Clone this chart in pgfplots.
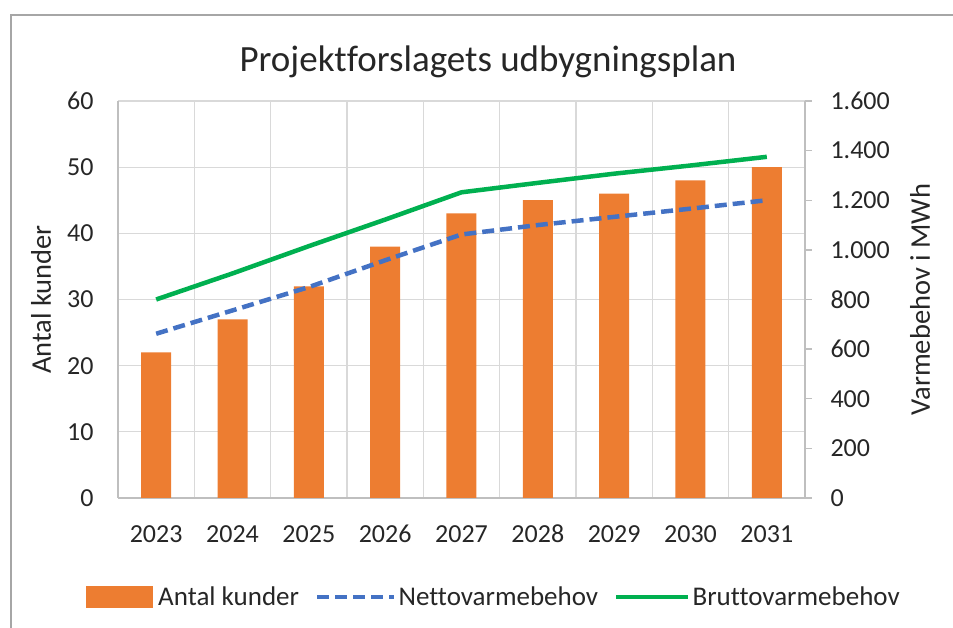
\documentclass[border=0pt]{standalone}
\usepackage{fontspec}
\setmainfont{Carlito}[Ligatures=NoCommon]
\usepackage{pgfplots}
\pgfplotsset{compat=1.18}
\definecolor{barorange}{HTML}{ED7D31}
\definecolor{lineblue}{HTML}{4472C4}
\definecolor{linegreen}{HTML}{00B050}
\definecolor{gridgray}{HTML}{D9D9D9}
\definecolor{axgray}{HTML}{BFBFBF}
\definecolor{framegray}{HTML}{A6A6A6}
\definecolor{txt}{HTML}{262626}
\pgfplotsset{
  longline/.style={legend image code/.code={\draw[##1] (0pt,0pt) -- (#1,0pt);}},
  barpatch/.style={legend image code/.code={\fill[barorange] (0pt,-10pt) rectangle (66pt,11pt); \path (70pt,0pt);}},
}
\begin{document}
\begin{tikzpicture}
\path[use as bounding box] (0pt,0pt) rectangle (953pt,628pt);
\draw[line width=2pt, framegray] (11pt,0pt) -- (11pt,613pt) -- (953pt,613pt);
\node[text=txt, font=\fontsize{37}{44}\selectfont] at (488pt,566pt) {Projektforslagets udbygningsplan};

\begin{axis}[
  at={(118pt,130pt)}, anchor=south west,
  scale only axis, width=687pt, height=397pt,
  xmin=-0.5, xmax=8.5, ymin=0, ymax=60,
  axis y line*=left, axis x line*=bottom,
  xtick={0,1,2,3,4,5,6,7,8},
  xticklabels={2023,2024,2025,2026,2027,2028,2029,2030,2031},
  minor xtick={-0.5,0.5,1.5,2.5,3.5,4.5,5.5,6.5,7.5,8.5},
  xminorgrids, ymajorgrids,
  ytick={0,10,20,30,40,50,60},
  major tick length=0pt, minor tick length=0pt,
  grid style={gridgray, line width=1.3pt},
  minor grid style={gridgray, line width=1.3pt},
  axis line style={draw=axgray, line width=1.3pt},
  tick label style={text=txt, font=\fontsize{26}{30}\selectfont},
  /pgf/number format/assume math mode=true,
  xticklabel style={anchor=base, yshift=-45pt},
  yticklabel style={xshift=-21pt},
  ylabel={Antal kunder},
  ylabel style={at={(axis description cs:-0.112,0.5)}, anchor=center, text=txt, font=\fontsize{28.5}{33}\selectfont},
]
\addplot[ybar, bar width=30pt, fill=barorange, draw=none] coordinates {
  (0,22) (1,27) (2,32) (3,38) (4,43) (5,45) (6,46) (7,48) (8,50)
};
\end{axis}

\begin{axis}[
  at={(118pt,130pt)}, anchor=south west,
  scale only axis, width=687pt, height=397pt,
  xmin=-0.5, xmax=8.5, ymin=0, ymax=1600,
  axis y line*=right, axis x line=none,
  ytick={0,200,400,600,800,1000,1200,1400,1600},
  tick align=outside, major tick length=7pt,
  tick style={axgray, line width=1.3pt},
  axis line style={draw=axgray, line width=1.3pt},
  scaled y ticks=false,
  tick label style={text=txt, font=\fontsize{26}{30}\selectfont},
  /pgf/number format/assume math mode=true,
  /pgf/number format/1000 sep={.},
  /pgf/number format/fixed,
  yticklabel style={xshift=15pt},
  ylabel={Varmebehov i MWh},
  ylabel style={at={(axis description cs:1.1674,0.5)}, anchor=center, text=txt, font=\fontsize{28.5}{33}\selectfont},
  legend style={at={(0.547,-0.249)}, anchor=center, draw=none, fill=none,
    legend columns=-1, font=\fontsize{27}{31}\selectfont, text=txt,
    /tikz/every even column/.append style={column sep=14pt}},
  legend cell align=left,
]
\addlegendimage{barpatch}
\addlegendentry{Antal kunder}
\addplot[lineblue, line width=4.5pt, dash pattern=on 12pt off 6pt, longline=77pt] coordinates {
  (0,662) (1,756) (2,850) (3,958) (4,1062) (5,1100) (6,1133) (7,1166) (8,1200)
};
\addlegendentry{Nettovarmebehov}
\addplot[linegreen, line width=4.5pt, longline=72pt] coordinates {
  (0,800) (1,905) (2,1015) (3,1122) (4,1232) (5,1270) (6,1307) (7,1340) (8,1375)
};
\addlegendentry{Bruttovarmebehov}
\end{axis}
\end{tikzpicture}
\end{document}
